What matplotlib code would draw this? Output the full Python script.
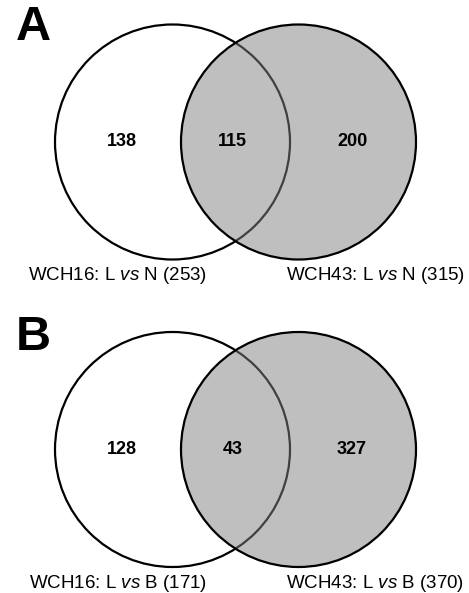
import matplotlib
matplotlib.use("Agg")
import matplotlib.pyplot as plt
from matplotlib.patches import Circle

plt.rcParams['font.family'] = ['Liberation Sans', 'DejaVu Sans']
plt.rcParams['mathtext.fontset'] = 'custom'
plt.rcParams['mathtext.rm'] = 'Liberation Sans'
plt.rcParams['mathtext.it'] = 'Liberation Sans:italic'

# Data
panels = ["A", "B"]
only_left = [138, 128]
overlap = [115, 43]
only_right = [200, 327]
left_names = ["WCH16: L $\\it{vs}$ N (253)", "WCH16: L $\\it{vs}$ B (171)"]
right_names = ["WCH43: L $\\it{vs}$ N (315)", "WCH43: L $\\it{vs}$ B (370)"]

W, H = 469, 593
fig = plt.figure(figsize=(W / 100, H / 100), dpi=100)
ax = fig.add_axes([0, 0, 1, 1])
ax.set_xlim(0, W)
ax.set_ylim(H, 0)
ax.set_aspect('equal')
ax.axis('off')

cy_list = [142, 449.5]
letter_y = [27, 338]
label_y = [276, 583]
r = 117.5
cxl, cxr = 172.5, 298.5
G = 129 / 255

for i, p in enumerate(panels):
    cy = cy_list[i]
    ax.add_patch(Circle((cxl, cy), r, facecolor='white', edgecolor='black', lw=1.6, zorder=1))
    ax.add_patch(Circle((cxr, cy), r, facecolor=(G, G, G, 0.5), edgecolor='none', zorder=2))
    ax.add_patch(Circle((cxr, cy), r, facecolor='none', edgecolor='black', lw=1.6, zorder=3))
    ax.text(33, letter_y[i], p, fontsize=35, fontweight='bold', ha='center', va='center', zorder=5)
    ax.text(122, cy, str(only_left[i]), fontsize=13, fontweight='bold', ha='center', va='center', zorder=5)
    ax.text(232.5, cy, str(overlap[i]), fontsize=13, fontweight='bold', ha='center', va='center', zorder=5)
    ax.text(352, cy, str(only_right[i]), fontsize=13, fontweight='bold', ha='center', va='center', zorder=5)
    ax.text(118, label_y[i], left_names[i], fontsize=13.5, ha='center', va='center', zorder=5)
    ax.text(375.5, label_y[i], right_names[i], fontsize=13.5, ha='center', va='center', zorder=5)

fig.savefig("out.png", dpi=100)
